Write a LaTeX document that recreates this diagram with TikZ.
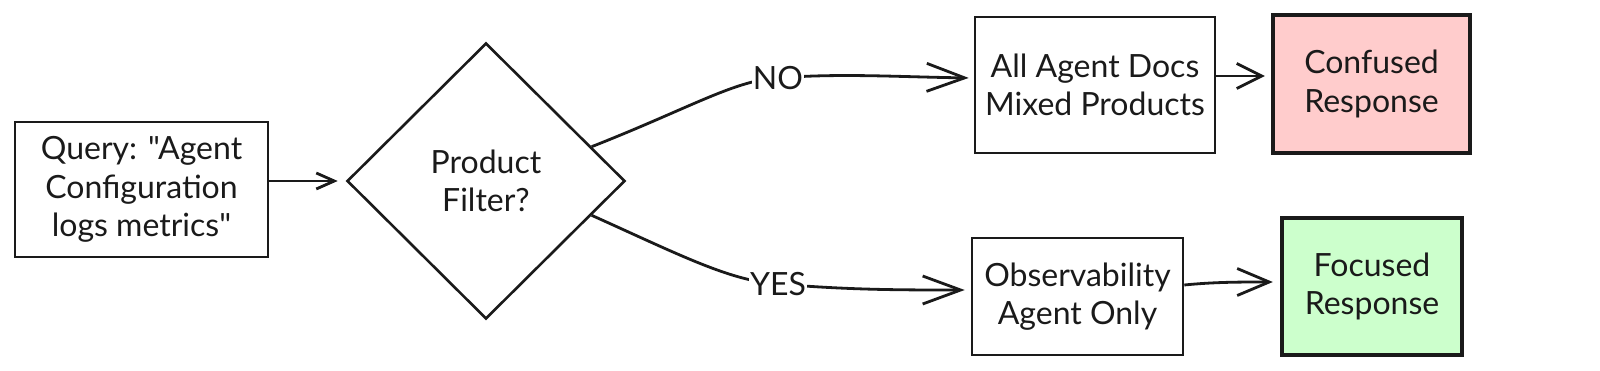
\documentclass[tikz,border=0pt]{standalone}
\usepackage{fontspec}
\setmainfont{Lato}[Ligatures=TeXOff]
\usetikzlibrary{arrows.meta,shapes.geometric,calc}
\definecolor{pinkfill}{HTML}{FFCCCC}
\definecolor{greenfill}{HTML}{CCFFCC}
\definecolor{ink}{HTML}{1A1A1A}
\tikzset{
  box/.style={draw=ink, line width=2.6pt, align=center, inner sep=0pt, text=ink,
    font=\fontsize{32}{38.5}\selectfont},
  thickbox/.style={box, line width=4.4pt},
  conn/.style={draw=ink, line width=2.8pt},
  lbl/.style={fill=white, inner sep=1pt, text=ink, font=\fontsize{32}{33}\selectfont},
}
\begin{document}
\begin{tikzpicture}[x=1pt,y=-1pt]
\useasboundingbox (0,0) rectangle (1600,371);
\node[box, minimum width=253pt, minimum height=135pt] (q) at (141.5,189.5)
  {Query: "Agent\\Configuration\\logs metrics"};
\node[box, shape=diamond, minimum width=278pt, minimum height=276pt] (d) at (486,181)
  {Product\\Filter?};
\node[box, minimum width=240pt, minimum height=136pt] (docs) at (1095,85)
  {All Agent Docs\\Mixed Products};
\node[thickbox, fill=pinkfill, minimum width=197pt, minimum height=138pt] (conf) at (1371.5,84)
  {Confused\\Response};
\node[box, minimum width=211pt, minimum height=117pt] (obs) at (1077.5,296.5)
  {Observability\\Agent Only};
\node[thickbox, fill=greenfill, minimum width=180pt, minimum height=137pt] (foc) at (1372,286.5)
  {Focused\\Response};

\draw[conn, -{Straight Barb[length=18pt,width=16pt,line width=2.8pt]}, shorten >=8pt]
  (q.east |- d.west) -- (d.west);

\coordinate (noL) at (778,78);
\draw[conn, -{Straight Barb[length=38pt,width=28pt,line width=2.8pt]}, shorten >=5pt]
  (d.18) .. controls (690,108) and (735,80) .. (noL)
  .. controls (840,73) and (900,77) .. (docs.west |- 0,78);
\node[lbl] (no) at (noL) {NO};

\coordinate (yesL) at (778,284);
\draw[conn, -{Straight Barb[length=38pt,width=28pt,line width=2.8pt]}, shorten >=6pt]
  (d.-18) .. controls (680,255) and (730,281) .. (yesL)
  .. controls (850,290) and (900,290) .. (obs.west |- 0,290);
\node[lbl] (yes) at (yesL) {YES};

\draw[conn, -{Straight Barb[length=25pt,width=25pt,line width=2.8pt]}, shorten >=6pt]
  ([yshift=9pt]docs.east) -- ([yshift=8pt]conf.west);

\draw[conn, -{Straight Barb[length=32pt,width=27pt,line width=2.8pt]}, shorten >=7pt]
  ([yshift=11.5pt]obs.east) .. controls +(30,-3) and +(-40,0) .. ([yshift=4.5pt]foc.west);
\end{tikzpicture}
\end{document}
